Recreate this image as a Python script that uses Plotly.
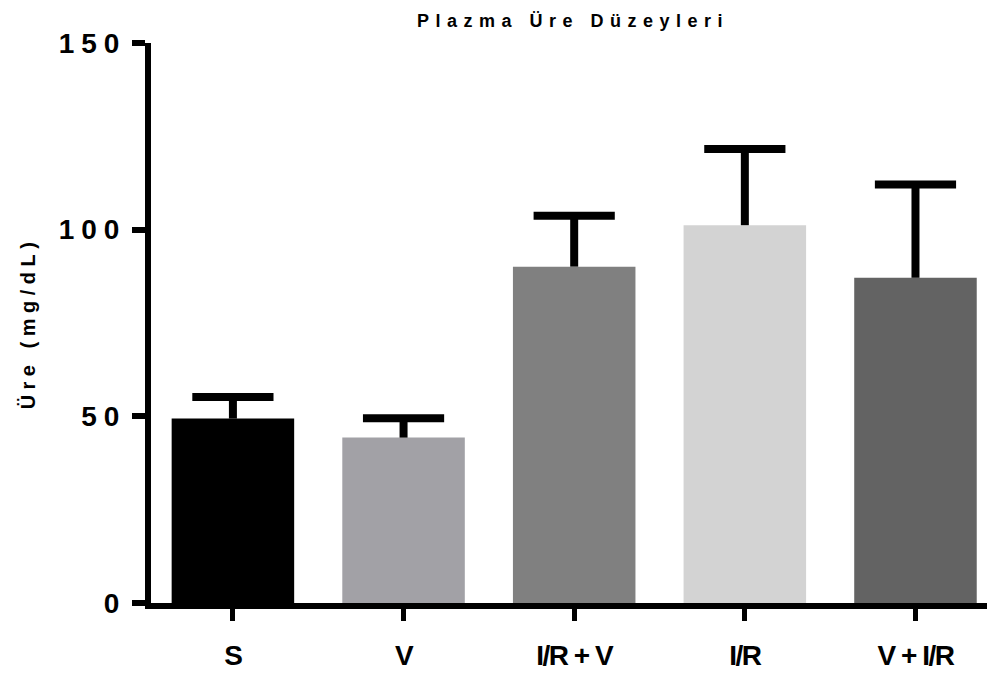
import plotly.graph_objects as go

categories = ["S", "V", "I/R + V", "I/R", "V + I/R"]
means = [49.4, 44.3, 90.1, 101.2, 87.1]
errors = [5.8, 5.2, 13.6, 20.4, 25.0]
colors = ["#000000", "#A2A1A6", "#808080", "#D3D3D3", "#636363"]
y_ticks = [0, 50, 100, 150]

title_text = "Plazma Üre Düzeyleri"
y_title = "Üre (mg/dL)"

xs = list(range(len(categories)))
tops = [m + e for m, e in zip(means, errors)]

fig = go.Figure()
fig.add_trace(go.Bar(
    x=xs,
    y=means,
    marker=dict(color=colors, line=dict(width=0)),
    width=0.718,
    error_y=dict(type="data", symmetric=False, array=errors,
                 arrayminus=[0] * len(errors),
                 color="#000000", thickness=8, width=0),
))
# error bar caps (upper only)
fig.add_trace(go.Scatter(
    x=xs, y=tops, mode="markers", hoverinfo="skip",
    marker=dict(symbol="line-ew", size=58, color="#000000",
                line=dict(width=8, color="#000000")),
))

font_main = "Liberation Sans, Arial, sans-serif"

fig.update_layout(
    width=987, height=666,
    margin=dict(l=143, r=0, t=35, b=71),
    paper_bgcolor="white", plot_bgcolor="white",
    showlegend=False,
    title=dict(
        text=f"<span style='letter-spacing:6.5px'><b>{title_text}</b></span>",
        x=0.5725, xanchor="center", y=0.991, yanchor="top",
        font=dict(family=font_main, size=18, color="#000000"),
    ),
    xaxis=dict(
        range=[-0.48, 4.466],
        automargin=False,
        tickmode="array",
        tickvals=xs,
        ticktext=[f"<span style='letter-spacing:-1.5px'><b>{c}</b></span>" for c in categories],
        showline=True, linecolor="#000000", linewidth=6,
        ticks="outside", ticklen=12, tickwidth=5, tickcolor="#000000",
        showgrid=False, zeroline=False,
        ticklabelstandoff=10,
        tickfont=dict(family=font_main, size=28, color="#000000"),
    ),
    yaxis=dict(
        range=[0, 150],
        automargin=False,
        tickmode="array",
        tickvals=y_ticks,
        ticktext=[f"<span style='letter-spacing:7px'><b>{t}</b></span>" for t in y_ticks],
        showline=True, linecolor="#000000", linewidth=6,
        ticks="outside", ticklen=13, tickwidth=6, tickcolor="#000000",
        showgrid=False, zeroline=False,
        tickfont=dict(family=font_main, size=28, color="#000000"),
        title=dict(
            text=f"<span style='letter-spacing:5.5px'><b>{y_title}</b></span>",
            font=dict(family=font_main, size=20, color="#000000"),
            standoff=20,
        ),
    ),
)

fig.write_html("out.html")
